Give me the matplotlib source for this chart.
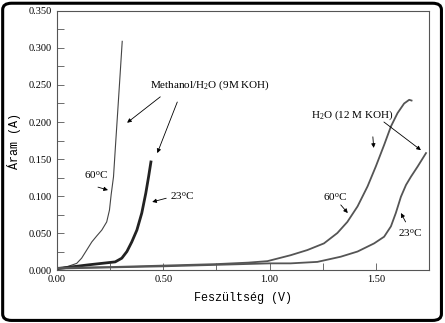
#!/usr/bin/env python3

import matplotlib
matplotlib.use("Agg")
import matplotlib.pyplot as plt
from matplotlib.patches import FancyBboxPatch
from matplotlib.ticker import MultipleLocator, FormatStrFormatter


# Methanol/H2O (9M KOH)
meoh_60_v = [0.0, 0.006, 0.053, 0.093, 0.116, 0.140, 0.164, 0.187, 0.211, 0.234, 0.247,
             0.255, 0.266, 0.276, 0.286, 0.297, 0.307]
meoh_60_i = [0.001, 0.002, 0.005, 0.009, 0.016, 0.027, 0.038, 0.046, 0.054, 0.065, 0.081,
             0.102, 0.126, 0.171, 0.215, 0.264, 0.309]

meoh_23_v = [0.0, 0.006, 0.148, 0.274, 0.305, 0.329, 0.352, 0.376, 0.399, 0.418, 0.431, 0.442]
meoh_23_i = [0.001, 0.002, 0.007, 0.011, 0.016, 0.025, 0.038, 0.054, 0.077, 0.104, 0.126, 0.146]

# H2O (12 M KOH)
h2o_60_v = [0.0, 0.25, 0.5, 0.75, 0.9, 0.99, 1.099, 1.178, 1.256, 1.319, 1.366, 1.414, 1.461,
            1.5, 1.539, 1.571, 1.602, 1.633, 1.657, 1.668]
h2o_60_i = [0.003, 0.004, 0.006, 0.008, 0.010, 0.012, 0.020, 0.027, 0.036, 0.050, 0.065, 0.086,
            0.113, 0.140, 0.169, 0.194, 0.212, 0.225, 0.230, 0.229]

h2o_23_v = [0.0, 0.5, 0.75, 1.0, 1.099, 1.225, 1.335, 1.414, 1.492, 1.539, 1.571, 1.594,
            1.618, 1.642, 1.665, 1.697, 1.736]
h2o_23_i = [0.002, 0.005, 0.007, 0.009, 0.009, 0.011, 0.018, 0.025, 0.036, 0.045, 0.059, 0.077,
            0.099, 0.115, 0.126, 0.140, 0.158]

SERIF = "Liberation Serif"
MONO = "Liberation Mono"


def main():
    plt.rcParams["mathtext.fontset"] = "custom"
    plt.rcParams["mathtext.rm"] = SERIF
    plt.rcParams["mathtext.it"] = SERIF + ":italic"

    fig = plt.figure(figsize=(4.45, 3.23), dpi=100)
    ax = fig.add_axes([0.128, 0.164, 0.836, 0.802])

    ax.plot(meoh_60_v, meoh_60_i, color="#444444", lw=0.8)
    ax.plot(meoh_23_v, meoh_23_i, color="#222222", lw=2.0)
    ax.plot(h2o_60_v, h2o_60_i, color="#555555", lw=1.3)
    ax.plot(h2o_23_v, h2o_23_i, color="#555555", lw=1.3)

    ax.set_xlim(0, 1.75)
    ax.set_ylim(0, 0.35)
    ax.xaxis.set_major_locator(MultipleLocator(0.5))
    ax.xaxis.set_minor_locator(MultipleLocator(0.25))
    ax.yaxis.set_major_locator(MultipleLocator(0.05))
    ax.yaxis.set_minor_locator(MultipleLocator(0.025))
    ax.xaxis.set_major_formatter(FormatStrFormatter("%.2f"))
    ax.yaxis.set_major_formatter(FormatStrFormatter("%.3f"))
    ax.tick_params(which="both", direction="in", length=5, width=0.6, color="#555555",
                   labelsize=7.5, top=False, right=False)
    for label in ax.get_xticklabels() + ax.get_yticklabels():
        label.set_fontfamily(SERIF)
    for spine in ax.spines.values():
        spine.set_color("#555555")
        spine.set_linewidth(0.8)

    ax.set_xlabel("Feszültség (V)", fontfamily=MONO, fontsize=8.5, labelpad=6)
    ax.set_ylabel("Áram (A)", fontfamily=MONO, fontsize=8.5, labelpad=6)

    arrow = dict(arrowstyle="-|>", lw=0.6, color="black", mutation_scale=6,
                 shrinkA=0, shrinkB=0)
    text_kw = dict(fontfamily=SERIF, fontsize=8, va="center", ha="left")

    ax.text(0.44, 0.249, "Methanol/H$_2$O (9M KOH)", **text_kw)
    ax.annotate("", xy=(0.33, 0.199), xytext=(0.486, 0.234), arrowprops=arrow)
    ax.annotate("", xy=(0.472, 0.158), xytext=(0.566, 0.227), arrowprops=arrow)

    ax.text(0.125, 0.128, "60$^{\\mathrm{o}}$C", **text_kw)
    ax.annotate("", xy=(0.24, 0.108), xytext=(0.193, 0.112), arrowprops=arrow)

    ax.text(0.533, 0.100, "23$^{\\mathrm{o}}$C", **text_kw)
    ax.annotate("", xy=(0.448, 0.092), xytext=(0.514, 0.097), arrowprops=arrow)

    ax.text(1.193, 0.209, "H$_2$O (12 M KOH)", **text_kw)
    ax.annotate("", xy=(1.49, 0.165), xytext=(1.486, 0.18), arrowprops=arrow)
    ax.annotate("", xy=(1.712, 0.162), xytext=(1.538, 0.2), arrowprops=arrow)

    ax.text(1.25, 0.099, "60$^{\\mathrm{o}}$C", **text_kw)
    ax.annotate("", xy=(1.368, 0.077), xytext=(1.335, 0.088), arrowprops=arrow)

    ax.text(1.604, 0.05, "23$^{\\mathrm{o}}$C", **text_kw)
    ax.annotate("", xy=(1.618, 0.077), xytext=(1.64, 0.065), arrowprops=arrow)

    frame = FancyBboxPatch((0.006, 0.008), 0.986, 0.982, transform=fig.transFigure,
                           boxstyle="round,pad=0,rounding_size=0.02",
                           facecolor="none", edgecolor="black", lw=2.2)
    fig.patches.append(frame)

    fig.savefig("out.png", dpi=100)
    plt.close(fig)


if __name__ == "__main__":
    main()
